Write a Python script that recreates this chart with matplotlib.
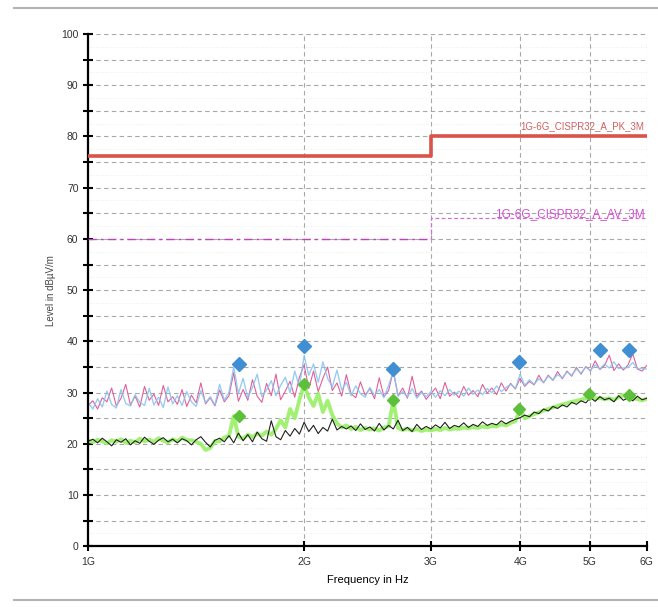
import numpy as np
import matplotlib
matplotlib.use("Agg")
import matplotlib.pyplot as plt
from matplotlib.lines import Line2D
from matplotlib.ticker import FixedLocator, NullFormatter

plt.rcParams['font.family'] = ['Liberation Sans', 'DejaVu Sans']

# Limit lines (GHz, dBuV/m)
pk_limit_f = [1.0, 3.0, 3.0, 6.0]
pk_limit_v = [76.2, 76.2, 80.0, 80.0]
av_limit_f = [1.0, 3.0, 3.0, 6.0]
av_limit_v = [60.0, 60.0, 64.0, 64.0]

# Measured traces, sampled on a log sweep 1G..6G
peak_pink = [27.5, 28.4, 26.8, 29.0, 28.2, 30.9, 27.4, 28.9, 31.6, 27.6,
             29.3, 27.2, 31.2, 28.5, 29.7, 27.5, 31.4, 28.2, 29.2, 27.7,
             30.6, 27.3, 29.5, 28.0, 31.9, 27.8, 29.0, 27.4, 30.5, 28.2,
             29.4, 33.9, 28.3, 30.6, 28.5, 32.5, 29.3, 28.1, 31.8, 29.4,
             33.6, 28.6, 30.3, 32.2, 29.1, 33.0, 35.4, 30.8, 34.2, 30.2,
             32.8, 35.0, 30.4, 31.9, 29.3, 33.5, 29.8, 29.0, 32.1, 29.5,
             30.8, 28.8, 32.9, 29.2, 30.4, 34.3, 29.4, 30.9, 28.9, 33.2,
             29.2, 30.3, 28.7, 29.8, 30.9, 28.8, 32.0, 29.3, 30.1, 29.0,
             31.2, 29.5, 30.4, 29.2, 31.6, 29.9, 30.9, 29.6, 31.9, 30.3,
             31.8, 30.7, 32.8, 31.2, 32.2, 31.5, 33.4, 31.9, 33.4, 32.4,
             34.1, 32.7, 34.2, 33.2, 34.9, 33.6, 35.1, 34.2, 36.2, 34.5,
             35.3, 37.3, 34.3, 35.6, 34.4, 35.4, 37.6, 34.6, 34.2, 35.3]

peak_cyan = [28.0, 26.8, 28.8, 27.2, 30.3, 27.7, 27.0, 30.6, 27.9, 27.4,
             29.6, 28.1, 27.5, 30.8, 27.6, 29.1, 27.1, 31.1, 27.8, 29.4,
             27.5, 30.2, 28.2, 27.3, 30.4, 28.0, 29.2, 27.6, 31.6, 28.5,
             30.1, 35.0, 29.8, 32.8, 29.0, 31.0, 33.6, 29.2, 30.5, 32.3,
             29.4, 31.4, 33.0, 30.0, 34.2, 31.2, 37.2, 33.4, 35.6, 32.0,
             36.0, 32.8, 31.1, 34.4, 30.5, 32.0, 29.4, 31.3, 29.8, 29.1,
             31.0, 29.5, 30.6, 29.0, 31.4, 34.2, 29.3, 30.2, 29.1, 30.8,
             28.9, 30.0, 29.2, 30.2, 29.1, 30.4, 29.4, 30.6, 29.5, 30.3,
             29.3, 30.9, 29.7, 30.5, 29.6, 30.8, 30.0, 31.3, 30.2, 31.0,
             31.6, 30.8, 33.6, 31.4, 32.5, 31.6, 32.7, 32.0, 33.2, 32.5,
             33.5, 32.9, 34.0, 33.4, 34.6, 33.8, 35.0, 34.3, 35.4, 34.6,
             35.6, 34.8, 36.0, 34.7, 34.8, 34.9, 35.9, 34.7, 34.7, 34.6]

avg_black = [20.5, 20.9, 20.2, 21.1, 20.4, 19.6, 20.8, 20.3, 21.0, 19.8,
             20.6, 20.1, 21.3, 20.5, 19.9, 20.7, 21.2, 20.4, 20.9, 20.2,
             21.0, 20.6, 19.8, 20.8, 21.4, 20.3, 19.4, 20.7, 21.1, 20.4,
             21.6, 20.2, 22.1, 20.6, 21.8, 20.4, 22.3, 21.0, 20.5, 24.5,
             21.4, 20.8, 22.6, 21.5, 23.0, 21.9, 24.2, 22.4, 23.6, 22.0,
             23.2, 22.5, 24.8, 22.7, 23.4, 22.9, 23.5, 22.6, 23.9, 22.8,
             23.3, 22.5, 24.0, 22.7, 23.6, 22.9, 24.6, 22.6, 23.2, 22.4,
             23.8, 22.8, 23.4, 22.9, 23.7, 23.1, 24.2, 23.0, 23.6, 23.3,
             24.1, 23.2, 23.8, 23.4, 24.3, 23.6, 24.0, 23.7, 24.5, 23.9,
             24.4, 24.8, 25.1, 25.6, 25.3, 26.2, 25.9, 26.8, 26.4, 27.3,
             26.9, 27.6, 27.2, 28.1, 27.7, 28.4, 28.0, 29.0, 28.3, 29.2,
             28.6, 28.9, 28.2, 29.4, 28.5, 29.0, 28.4, 29.3, 28.6, 28.9]

avg_green = [20.6, 20.3, 20.8, 20.5, 20.1, 20.7, 20.4, 20.9, 20.2, 20.6,
             20.3, 21.0, 20.5, 20.8, 20.4, 21.1, 20.6, 20.3, 20.9, 20.5,
             21.2, 20.7, 20.7, 20.4, 20.0, 18.8, 19.2, 20.5, 20.5, 21.2,
             21.6, 25.4, 21.4, 21.0, 21.8, 21.3, 22.0, 21.6, 22.4, 21.8,
             22.9, 24.6, 23.2, 26.8, 25.0, 28.6, 31.6, 29.0, 27.4, 29.8,
             26.2, 28.4, 25.6, 24.0, 23.2, 23.6, 22.9, 23.3, 22.7, 23.1,
             22.8, 23.0, 22.6, 23.2, 23.4, 28.5, 23.1, 22.7, 23.0, 22.6,
             22.9, 22.5, 22.8, 22.6, 22.9, 22.7, 23.1, 22.8, 23.0, 22.9,
             23.2, 23.0, 23.3, 23.1, 23.4, 23.2, 23.5, 23.4, 23.8, 23.6,
             24.1, 24.4, 26.8, 25.0, 25.4, 25.8, 26.1, 26.5, 26.8, 27.1,
             27.4, 27.7, 27.9, 28.2, 28.4, 28.6, 28.9, 29.7, 28.8, 29.0,
             28.7, 28.9, 28.6, 29.1, 29.5, 28.8, 29.0, 28.7, 28.5, 28.8]

# Final measurement markers
pk_mark_f = [1.62, 2.00, 2.66, 3.98, 5.17, 5.67]
pk_mark_v = [35.5, 39.1, 34.7, 35.9, 38.3, 38.3]
av_mark_f = [1.62, 2.00, 2.66, 3.98, 4.99, 5.66]
av_mark_v = [25.4, 31.6, 28.5, 26.8, 29.7, 29.5]

freq = np.geomspace(1.0, 6.0, len(peak_pink))

fig = plt.figure(figsize=(6.58, 6.07), dpi=100)
ax = fig.add_axes([0.134, 0.100, 0.849, 0.844])

ax.set_xscale('log')
ax.set_xlim(1.0, 6.0)
ax.set_ylim(0, 100)

# grid
ax.xaxis.set_major_locator(FixedLocator([1, 2, 3, 4, 5, 6]))
ax.xaxis.set_minor_locator(FixedLocator([]))
ax.set_xticklabels(['1G', '2G', '3G', '4G', '5G', '6G'])
ax.yaxis.set_major_locator(FixedLocator(range(0, 101, 10)))
ax.yaxis.set_minor_locator(FixedLocator(range(5, 100, 10)))
ax.yaxis.set_minor_formatter(NullFormatter())
for y in np.arange(2.5, 100, 5):
    ax.axhline(y, color='#e8e8e8', lw=0.6, ls=(0, (1, 2)), zorder=0)
for y in range(5, 101, 5):
    ax.axhline(y, color='#a8a8a8', lw=0.8, ls=(0, (4, 3)), zorder=0)
for x in [2, 3, 4, 5, 6]:
    ax.axvline(x, color='#a8a8a8', lw=0.8, ls=(0, (4, 3)), zorder=0)

# limits
ax.plot(pk_limit_f, pk_limit_v, color='#d9534a', lw=2.6, zorder=3)
ax.plot(av_limit_f[:2], av_limit_v[:2], color='#c040c0', lw=1.0,
        ls=(0, (6, 3, 2, 3)), zorder=3)
ax.plot(av_limit_f[1:], av_limit_v[1:], color='#d070d0', lw=0.9,
        ls=(0, (3, 2)), zorder=3)
ax.text(5.95, 81.0, '1G-6G_CISPR32_A_PK_3M', color='#d06060', fontsize=7,
        ha='right', va='bottom')
ax.text(5.95, 63.6, '1G-6G_CISPR32_A_AV_3M', color='#d050d0', fontsize=8.5,
        ha='right', va='bottom')

# traces
ax.plot(freq, avg_green, color='#98f066', lw=2.8, alpha=0.9, zorder=2)
ax.plot(freq, avg_black, color='#202020', lw=0.8, zorder=2.5)
ax.plot(freq, peak_pink, color='#e0609a', lw=0.8, zorder=2)
ax.plot(freq, peak_cyan, color='#88c4f0', lw=1.0, alpha=0.85, zorder=2.2)

ax.plot(pk_mark_f, pk_mark_v, ls='none', marker='D', ms=7,
        color='#3f8fd2', zorder=4)
ax.plot(av_mark_f, av_mark_v, ls='none', marker='D', ms=6,
        color='#5cc03a', zorder=4)

for side in ['top', 'right']:
    ax.spines[side].set_visible(False)
for side in ['left', 'bottom']:
    ax.spines[side].set_linewidth(1.6)
ax.tick_params(which='both', direction='inout', length=7, width=1.5,
               labelsize=7.5, labelcolor='#333333')
ax.tick_params(axis='x', pad=4)

ax.set_xlabel('Frequency in Hz', fontsize=8, labelpad=6)
ax.set_ylabel('Level in dBµV/m', fontsize=7, color='#444444', labelpad=4)

# outer frame lines
fig.add_artist(Line2D([0.022, 1.0], [0.986, 0.986], color='#b4b4b4', lw=1.5))
fig.add_artist(Line2D([0.022, 1.0], [0.012, 0.012], color='#b4b4b4', lw=1.5))

fig.savefig('out.png', dpi=100)
